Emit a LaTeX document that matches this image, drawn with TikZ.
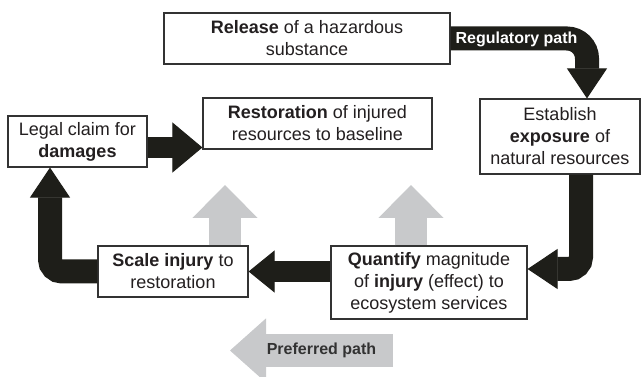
\documentclass[tikz,border=0pt]{standalone}
\usepackage{fontspec}
\setmainfont{Liberation Sans}
\usetikzlibrary{arrows.meta,calc}
\definecolor{blk}{RGB}{30,30,25}
\definecolor{lgray}{RGB}{200,201,203}
\definecolor{txt}{RGB}{35,31,32}
\definecolor{ptxt}{RGB}{50,50,50}
\begin{document}
\begin{tikzpicture}[x=1pt,y=-1pt,
  box/.style={draw=black!80, line width=1.2pt, fill=white, align=center, text=txt,
              font=\fontsize{18}{22}\selectfont, inner sep=0pt},
  bigarrow/.style={draw=blk, line width=24pt,
              -{Triangle[width=40pt,length=30pt,line width=1pt]}},
  grayarrow/.style={draw=lgray, line width=32pt,
              -{Triangle[width=65pt,length=33pt,line width=1pt]}},
  arrowlabel/.style={font=\fontsize{16}{18}\selectfont\bfseries, inner sep=0pt}
]
\useasboundingbox (0,0) rectangle (641,377);

% boxes
\node[box, minimum width=286pt, minimum height=51pt] (rel) at (307,38.5)
  {\textbf{Release} of a hazardous\\substance};
\node[box, minimum width=229pt, minimum height=51pt] (rest) at (317.5,123.5)
  {\textbf{Restoration} of injured\\resources to baseline};
\node[box, minimum width=160pt, minimum height=75pt] (est) at (560,136.5)
  {Establish\\\textbf{exposure} of\\natural resources};
\node[box, minimum width=139pt, minimum height=51pt] (legal) at (77.5,141.5)
  {Legal claim for\\\textbf{damages}};
\node[box, minimum width=150pt, minimum height=51pt] (scale) at (173,271.5)
  {\textbf{Scale injury} to\\restoration};
\node[box, minimum width=196pt, minimum height=73pt] (quant) at (429,282.5)
  {\textbf{Quantify} magnitude\\of \textbf{injury} (effect) to\\ecosystem services};

% gray preferred-path arrows
\coordinate (g1) at (225,185);
\coordinate (g2) at (411,185);
\draw[grayarrow] ([xshift=52pt]scale.north) -- (g1);
\draw[grayarrow] ([xshift=-18pt]quant.north) -- (g2);

\coordinate (p1) at (393,350.5);
\coordinate (p2) at (230,350.5);
\draw[draw=lgray, line width=33pt,
      -{Triangle[width=64pt,length=36pt,line width=1pt]}] (p1) -- (p2);
\node[arrowlabel, text=ptxt] (plab) at (321.5,350.5) {Preferred path};

% black regulatory-path arrows
\draw[bigarrow, rounded corners=20pt] (rel.east) -| ([xshift=27pt]est.north);
\node[arrowlabel, text=white] (rlab) at (516.5,39) {Regulatory path};

\draw[bigarrow, rounded corners=12pt] ([xshift=21pt]est.south) |- ([yshift=13.5pt]quant.east);

\draw[bigarrow, line width=21pt, -{Triangle[width=42pt,length=26pt,line width=1pt]}]
  (quant.west |- scale.east) -- (scale.east);

\draw[bigarrow, rounded corners=12pt] (scale.west) -| ([xshift=-27.5pt]legal.south);

\coordinate (la) at ([yshift=-6pt]legal.east);
\draw[bigarrow, line width=21pt, -{Triangle[width=50pt,length=30pt,line width=1pt]}]
  (la) -- (rest.west |- la);
\end{tikzpicture}
\end{document}
